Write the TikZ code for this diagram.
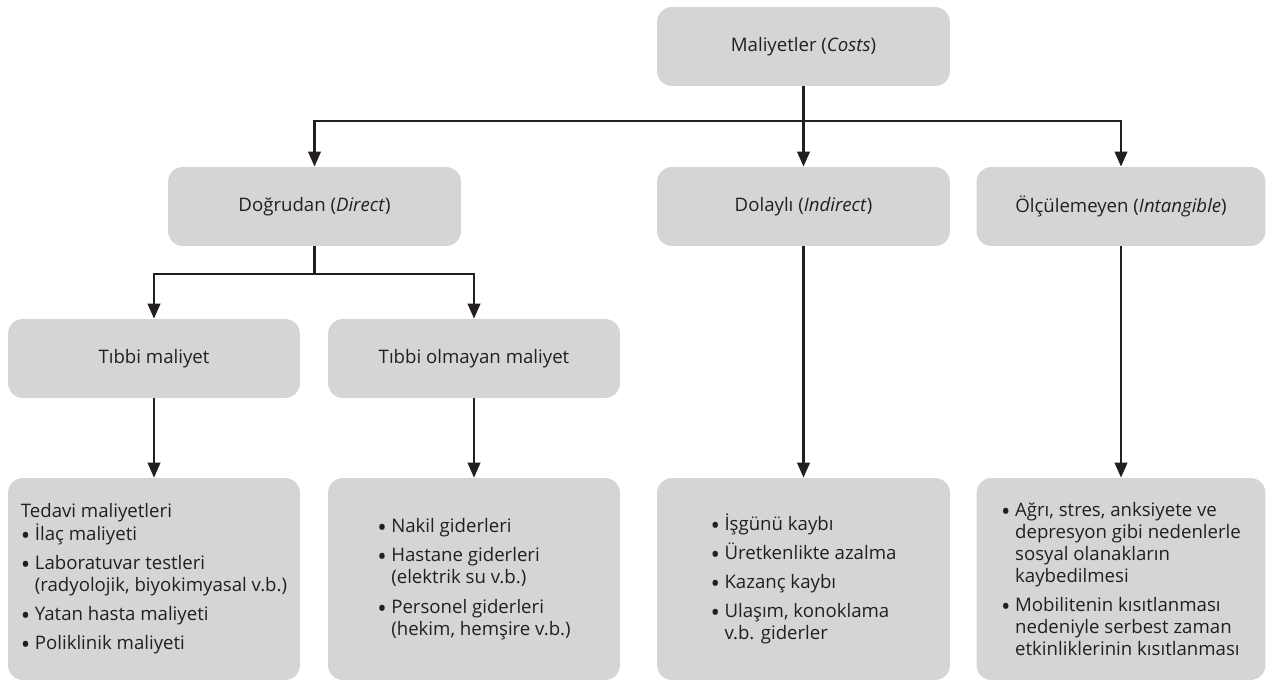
\documentclass[tikz,border=0pt]{standalone}
\usepackage{fontspec}
\setmainfont{Open Sans}
\usepackage{xcolor}
\usepackage{graphicx}
\usepackage{tikz}
\usetikzlibrary{arrows.meta}

\definecolor{boxgray}{HTML}{D4D5D7}
\definecolor{ink}{HTML}{231F20}
\newcommand{\blt}{\makebox[0.75em][l]{\raisebox{-0.4ex}{\scalebox{1.35}{\textbullet}}}}
\newcommand{\bind}{\hphantom{\makebox[0.75em]{}}}

\begin{document}
\begin{tikzpicture}[x=0.02cm,y=-0.02cm,
    box/.style={fill=boxgray,rounded corners=0.3cm,inner sep=0pt,
      minimum width=5.86cm,minimum height=1.58cm,text=ink,
      font=\fontsize{10.6}{12.6}\selectfont},
    tall/.style={box,minimum height=4.04cm,align=left},
    link/.style={line width=1.5pt,draw=ink},
    arr/.style={link,-{Triangle[length=8.5pt,width=7pt]}}]
    \useasboundingbox (0,0) rectangle (1266,683);
    % levels
    \node[box] (top) at (803.5,46.5) {Maliyetler (\textit{Costs})};
    \node[box] (dir) at (314.5,206.5) {Doğrudan (\textit{Direct})};
    \node[box] (ind) at (803.5,206.5) {Dolaylı (\textit{Indirect})};
    \node[box,minimum width=5.78cm] (intg) at (1121,206.5) {Ölçülemeyen (\textit{Intangible})};
    \node[box,minimum width=5.84cm] (med) at (154,358.5) {Tıbbi maliyet};
    \node[box,minimum width=5.84cm] (nmed) at (474,358.5) {Tıbbi olmayan maliyet};
    % lists
    \node[tall,minimum width=5.84cm] (b1) at (154,579) {Tedavi maliyetleri\\
      \blt İlaç maliyeti\\[4pt]
      \blt Laboratuvar testleri\\\bind (radyolojik, biyokimyasal v.b.)\\[4pt]
      \blt Yatan hasta maliyeti\\[4pt]
      \blt Poliklinik maliyeti};
    \node[tall,minimum width=5.84cm] (b2) at (474,579) {\blt Nakil giderleri\\[4pt]
      \blt Hastane giderleri\\\bind (elektrik su v.b.)\\[4pt]
      \blt Personel giderleri\\\bind (hekim, hemşire v.b.)};
    \node[tall] (b3) at (803.5,579) {\blt İşgünü kaybı\\[4pt]
      \blt Üretkenlikte azalma\\[4pt]
      \blt Kazanç kaybı\\[4pt]
      \blt Ulaşım, konoklama\\\bind v.b. giderler};
    \node[tall,minimum width=5.78cm] (b4) at (1121,579) {\blt Ağrı, stres, anksiyete ve\\
      \bind depresyon gibi nedenlerle\\\bind sosyal olanakların\\\bind kaybedilmesi\\[4pt]
      \blt Mobilitenin kısıtlanması\\\bind nedeniyle serbest zaman\\
      \bind etkinliklerinin kısıtlanması};
    % connectors
    \coordinate (s1) at (803.5,121);
    \coordinate (s2) at (314.5,274);
    \draw[link] (top) -- (s1);
    \draw[arr] (s1) -| (dir);
    \draw[arr] (s1) -- (ind);
    \draw[arr] (s1) -| (intg);
    \draw[link] (dir) -- (s2);
    \draw[arr] (s2) -| (med);
    \draw[arr] (s2) -| (nmed);
    \draw[arr] (med) -- (b1);
    \draw[arr] (nmed) -- (b2);
    \draw[arr] (ind) -- (b3);
    \draw[arr] (intg) -- (b4);
  \end{tikzpicture}
\end{document}
